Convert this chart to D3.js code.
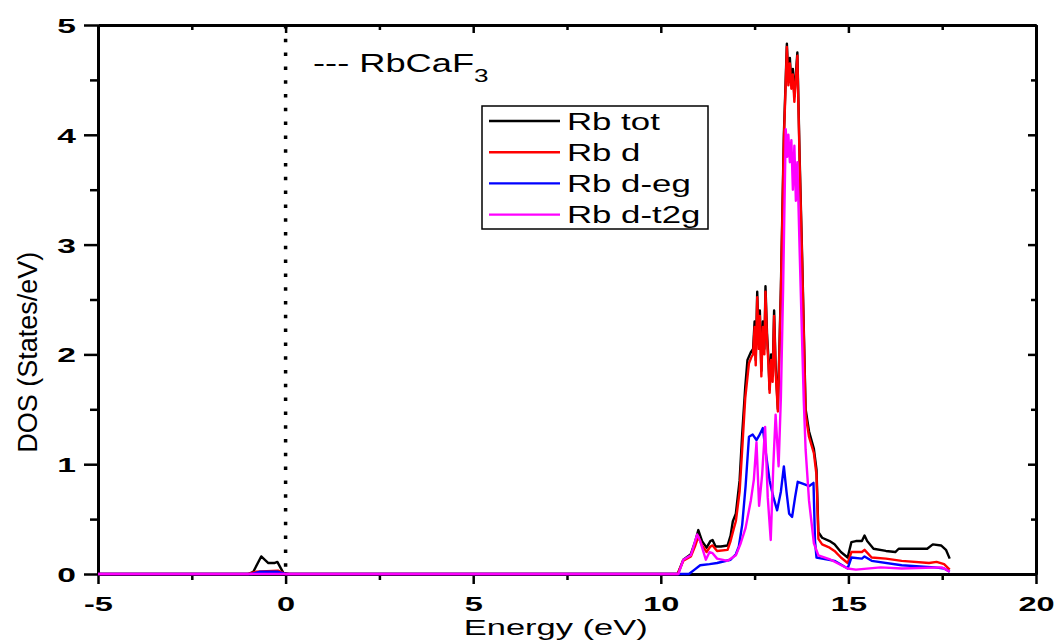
<!DOCTYPE html>
<html>
<head>
<meta charset="utf-8">
<script src="https://cdn.jsdelivr.net/npm/d3@7"></script>
<style>
  body { margin: 0; background: #fff; }
  text { font-family: "Liberation Sans", Arial, sans-serif; fill: #000; }
</style>
</head>
<body>
<svg width="1059" height="644"></svg>
<script>
// [energy (eV), DOS (states/eV)]
var rbTot = [[-5,0],[-1.0,0],[-0.86,0.02],[-0.65,0.16],[-0.46,0.1],[-0.3,0.1],[-0.22,0.11],[-0.06,0.01],[0.1,0],
  [10.45,0],[10.6,0.13],[10.8,0.18],[10.92,0.3],[11.0,0.4],[11.1,0.3],[11.22,0.24],[11.32,0.3],[11.38,0.31],[11.46,0.25],
  [11.6,0.25],[11.78,0.26],[11.86,0.35],[11.92,0.48],[12.0,0.55],[12.1,0.85],[12.17,1.28],[12.25,1.7],[12.31,1.95],
  [12.4,2.02],[12.46,2.05],[12.5,2.3],[12.53,1.95],[12.57,2.57],[12.61,2.1],[12.64,2.4],[12.68,1.85],[12.72,2.3],
  [12.76,2.05],[12.79,2.62],[12.83,2.2],[12.87,1.95],[12.9,1.68],[12.94,2.0],[12.98,1.8],[13.02,2.4],[13.06,1.9],
  [13.12,1.5],[13.2,2.6],[13.28,4.0],[13.36,4.83],[13.4,4.5],[13.44,4.7],[13.48,4.46],[13.52,4.6],[13.56,4.35],
  [13.64,4.75],[13.7,3.8],[13.77,2.85],[13.86,1.5],[13.95,1.3],
  [14.08,1.14],[14.15,0.95],[14.2,0.38],[14.3,0.33],[14.5,0.3],[14.63,0.27],[14.8,0.2],[14.98,0.15],[15.08,0.29],
  [15.2,0.3],[15.36,0.3],[15.43,0.35],[15.5,0.3],[15.67,0.23],[16.0,0.21],[16.25,0.2],[16.34,0.23],[16.7,0.23],
  [17.1,0.23],[17.25,0.27],[17.47,0.26],[17.6,0.22],[17.7,0.14]];

var rbD = [[-5,0],[-1.0,0],[-0.8,0.02],[-0.2,0.03],[0,0],
  [10.45,0],[10.6,0.12],[10.8,0.16],[10.92,0.26],[11.0,0.34],[11.1,0.26],[11.22,0.2],[11.32,0.25],[11.38,0.26],
  [11.5,0.21],[11.78,0.22],[11.86,0.3],[11.95,0.42],[12.0,0.48],[12.1,0.75],[12.17,1.14],[12.25,1.6],[12.35,1.92],
  [12.42,1.98],[12.46,2.0],[12.5,2.25],[12.53,1.9],[12.57,2.52],[12.61,2.05],[12.64,2.35],[12.68,1.8],[12.72,2.25],
  [12.76,2.0],[12.79,2.57],[12.83,2.15],[12.87,1.9],[12.9,1.65],[12.94,1.95],[12.98,1.75],[13.02,2.35],[13.06,1.85],
  [13.12,1.48],[13.2,2.55],[13.28,3.95],[13.36,4.8],[13.4,4.45],[13.44,4.65],[13.48,4.42],[13.52,4.55],[13.56,4.3],
  [13.64,4.72],[13.7,3.75],[13.77,2.8],[13.86,1.45],[13.95,1.25],
  [14.08,1.1],[14.15,0.9],[14.2,0.32],[14.3,0.27],[14.5,0.24],[14.63,0.21],[14.8,0.15],[14.98,0.1],[15.08,0.2],
  [15.36,0.2],[15.43,0.22],[15.62,0.15],[16.0,0.14],[16.42,0.12],[17.15,0.1],[17.35,0.11],[17.55,0.09],[17.7,0.04]];

var rbDeg = [[-5,0],[-0.9,0],[-0.7,0.02],[-0.2,0.02],[0,0],
  [10.75,0],[10.9,0.04],[11.05,0.08],[11.3,0.09],[11.5,0.1],[11.86,0.13],[12.0,0.18],[12.08,0.25],[12.17,0.45],
  [12.26,0.8],[12.35,1.25],[12.45,1.27],[12.55,1.22],[12.62,1.26],[12.72,1.33],[12.8,1.1],[12.9,0.85],[13.0,0.7],
  [13.1,0.58],[13.2,0.75],[13.28,0.98],[13.35,0.75],[13.42,0.55],[13.5,0.52],[13.58,0.7],[13.65,0.84],[13.8,0.82],
  [13.95,0.8],[14.07,0.83],[14.11,0.3],[14.15,0.15],[14.3,0.14],[14.63,0.12],[14.98,0.05],[15.08,0.15],[15.36,0.14],
  [15.43,0.16],[15.62,0.12],[16.42,0.08],[17.3,0.06],[17.55,0.05],[17.7,0.02]];

var rbDt2g = [[-5,0],[10.47,0],[10.6,0.13],[10.8,0.17],[10.97,0.36],[11.05,0.3],[11.2,0.13],[11.3,0.2],[11.38,0.19],
  [11.5,0.14],[11.78,0.12],[12.0,0.17],[12.13,0.28],[12.26,0.42],[12.4,0.67],[12.48,0.86],[12.55,1.2],[12.62,0.62],
  [12.7,0.9],[12.78,1.34],[12.85,0.7],[12.93,0.31],[13.0,1.0],[13.06,1.45],[13.14,0.98],[13.2,1.6],[13.26,2.6],
  [13.33,4.05],[13.37,3.8],[13.4,4.0],[13.44,3.75],[13.48,3.95],[13.52,3.5],[13.56,3.9],[13.6,3.4],[13.64,3.75],
  [13.7,2.95],[13.76,2.2],[13.81,1.58],
  [13.86,1.13],[13.95,0.67],[14.08,0.28],[14.2,0.17],[14.53,0.13],[14.98,0.05],[15.2,0.04],[15.86,0.06],[16.42,0.05],
  [17.5,0.06],[17.7,0.02]];

var seriesNames = ["Rb tot", "Rb d", "Rb d-eg", "Rb d-t2g"];
var seriesColors = ["#000000", "#ff0000", "#0000ff", "#ff00ff"];
var xMajor = [-5, 0, 5, 10, 15, 20];
var xMinor = [-2.5, 2.5, 7.5, 12.5, 17.5];
var yMajor = [0, 1, 2, 3, 4, 5];
var yMinor = [0.5, 1.5, 2.5, 3.5, 4.5];

var svg = d3.select("svg");
var margin = {left: 98, right: 23, top: 25, bottom: 70};
var width = 1059 - margin.left - margin.right;
var height = 644 - margin.top - margin.bottom;

var x = d3.scaleLinear().domain([-5, 20]).range([0, width]);
var y = d3.scaleLinear().domain([0, 5]).range([height, 0]);
var g = svg.append("g").attr("transform", "translate(" + margin.left + "," + margin.top + ")");
var plain = function(d) { return String(d); };

// fermi level
g.append("line")
  .attr("x1", x(0)).attr("x2", x(0))
  .attr("y1", 0).attr("y2", height)
  .attr("stroke", "#000").attr("stroke-width", 3.5)
  .attr("stroke-dasharray", "3.5,10.3");

function styleAxis(ax) {
  ax.select(".domain").attr("stroke", "#000").attr("stroke-width", 3);
  ax.selectAll(".tick line").attr("stroke", "#000").attr("stroke-width", 2.5);
}

// bottom
var xaxis = g.append("g").attr("transform", "translate(0," + height + ")")
  .call(d3.axisBottom(x).tickValues(xMajor).tickSize(10).tickSizeOuter(0).tickFormat(plain));
styleAxis(xaxis);
xaxis.selectAll("text")
  .attr("y", 37).attr("dy", 0)
  .attr("font-size", 21).attr("font-weight", "bold")
  .attr("transform", "scale(1.55,1)");
var xminor = g.append("g").attr("transform", "translate(0," + height + ")")
  .call(d3.axisBottom(x).tickValues(xMinor).tickSize(6).tickSizeOuter(0).tickFormat(""));
styleAxis(xminor);

// top
var xtop = g.append("g").call(d3.axisTop(x).tickValues(xMajor).tickSize(-8).tickSizeOuter(0).tickFormat(""));
styleAxis(xtop);
var xtopMinor = g.append("g").call(d3.axisTop(x).tickValues(xMinor).tickSize(-5).tickSizeOuter(0).tickFormat(""));
styleAxis(xtopMinor);

// left
var yaxis = g.append("g").call(d3.axisLeft(y).tickValues(yMajor).tickSize(14).tickSizeOuter(0).tickFormat(plain));
styleAxis(yaxis);
yaxis.selectAll("text")
  .attr("x", -22 / 1.6).attr("dy", "0.36em")
  .attr("font-size", 21).attr("font-weight", "bold")
  .attr("transform", "scale(1.6,1)");
var yminor = g.append("g").call(d3.axisLeft(y).tickValues(yMinor).tickSize(8).tickSizeOuter(0).tickFormat(""));
styleAxis(yminor);

// right
var yright = g.append("g").attr("transform", "translate(" + width + ",0)")
  .call(d3.axisRight(y).tickValues(yMajor).tickSize(-8).tickSizeOuter(0).tickFormat(""));
styleAxis(yright);
var yrightMinor = g.append("g").attr("transform", "translate(" + width + ",0)")
  .call(d3.axisRight(y).tickValues(yMinor).tickSize(-5).tickSizeOuter(0).tickFormat(""));
styleAxis(yrightMinor);

// curves
var line = d3.line()
  .x(function(d) { return x(d[0]); })
  .y(function(d) { return y(d[1]); });

var allSeries = [rbTot, rbD, rbDeg, rbDt2g];
allSeries.forEach(function(s, i) {
  g.append("path")
    .datum(s)
    .attr("fill", "none")
    .attr("stroke", seriesColors[i])
    .attr("stroke-width", 2.4)
    .attr("stroke-linejoin", "round")
    .attr("d", line);
});

// axis titles
svg.append("g").attr("transform", "translate(" + (margin.left + x(7.2)) + ",635)")
  .append("text")
  .attr("text-anchor", "middle")
  .attr("font-size", 23)
  .attr("transform", "scale(1.5,1)")
  .text("Energy (eV)");

svg.append("text")
  .attr("transform", "translate(37," + (margin.top + y(2.02)) + ") rotate(-90)")
  .attr("text-anchor", "middle")
  .attr("font-size", 27)
  .text("DOS (States/eV)");

// compound label
var lab = svg.append("g").attr("transform", "translate(313,72)")
  .append("text")
  .attr("font-size", 25)
  .attr("transform", "scale(1.45,1)");
lab.append("tspan").text("--- RbCaF");
lab.append("tspan").attr("font-size", 18).attr("dy", 10).text("3");

// legend
var legend = svg.append("g").attr("transform", "translate(482,106)");
legend.append("rect")
  .attr("width", 226).attr("height", 123)
  .attr("fill", "#fff").attr("stroke", "#000").attr("stroke-width", 1.5);
var items = legend.selectAll(".item").data(seriesNames).enter().append("g")
  .attr("class", "item")
  .attr("transform", function(d, i) { return "translate(0," + (15 + i * 31.2) + ")"; });
items.append("line")
  .attr("x1", 7).attr("x2", 78)
  .attr("stroke", function(d, i) { return seriesColors[i]; })
  .attr("stroke-width", 2.4);
items.append("g").attr("transform", "translate(85,0)")
  .append("text")
  .attr("dy", "0.36em")
  .attr("font-size", 24)
  .attr("transform", "scale(1.45,1)")
  .text(function(d) { return d; });
</script>
</body>
</html>
